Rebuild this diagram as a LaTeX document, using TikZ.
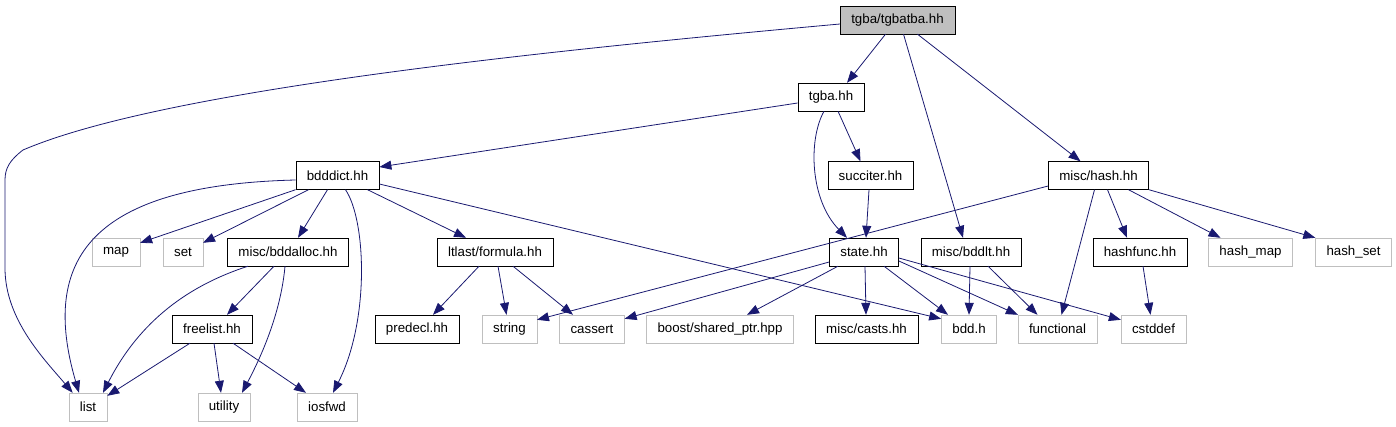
\documentclass[tikz,border=0pt]{standalone}
\usepackage{fontspec}
\setmainfont{Liberation Sans}
\usepackage{tikz}
\usetikzlibrary{arrows.meta}
\definecolor{doxyedge}{HTML}{191970}
\definecolor{doxygray}{HTML}{BFBFBF}
\begin{document}
\begin{tikzpicture}[x=1pt,y=-1pt,
	hdr/.style={draw=black,minimum height=28pt,inner xsep=11pt,inner ysep=0pt,font=\fontsize{13.3}{15}\selectfont},
	ext/.style={hdr,draw=doxygray},
	top/.style={hdr,fill=doxygray},
	incl/.style={doxyedge,line width=0.8pt,-{Triangle[length=12pt,width=9pt]}}]
				\useasboundingbox (0,0) rectangle (1396,427);
				\node[top] (tgbatba) at (897.5,20) {tgba/tgbatba.hh};
				\node[hdr] (tgba) at (831,97) {tgba.hh};
				\node[hdr] (bdddict) at (337.5,175.5) {bdddict.hh};
				\node[hdr] (succiter) at (870.5,175.5) {succiter.hh};
				\node[hdr] (hash) at (1098.5,175.5) {misc/hash.hh};
				\node[ext] (map) at (116,252) {map};
				\node[ext] (set) at (183,252) {set};
				\node[hdr] (bddalloc) at (288,252) {misc/bddalloc.hh};
				\node[hdr] (formula) at (495,252) {ltlast/formula.hh};
				\node[hdr] (state) at (864,252) {state.hh};
				\node[hdr] (bddlt) at (971,252) {misc/bddlt.hh};
				\node[hdr] (hashfunc) at (1140,252) {hashfunc.hh};
				\node[ext] (hashmap) at (1250.5,252) {hash\_map};
				\node[ext] (hashset) at (1353.5,252) {hash\_set};
				\node[hdr] (freelist) at (212,329) {freelist.hh};
				\node[hdr] (predecl) at (417,329) {predecl.hh};
				\node[ext] (string) at (509.5,329) {string};
				\node[ext] (cassert) at (592,329) {cassert};
				\node[ext] (boost) at (720,329) {boost/shared\_ptr.hpp};
				\node[hdr] (casts) at (866.5,329) {misc/casts.hh};
				\node[ext] (bddh) at (969,329) {bdd.h};
				\node[ext] (functional) at (1057.5,329) {functional};
				\node[ext] (cstddef) at (1153.5,329) {cstddef};
				\node[ext] (list) at (88,407) {list};
				\node[ext] (utility) at (224,407) {utility};
				\node[ext] (iosfwd) at (327,407) {iosfwd};
				\draw[incl] ([yshift=-4pt]tgbatba.west) .. controls (542,51) and (163,90) .. (23,150) .. controls (10,160) and (5,168) .. (5,180) -- (5,268) .. controls (5,320) and (45,360) .. ([xshift=4pt]list.north west);
				\draw[incl] ([xshift=-12pt]tgbatba.south) -- ([xshift=16pt]tgba.north);
				\draw[incl] ([xshift=6pt]tgbatba.south) -- ([xshift=-8pt]bddlt.north);
				\draw[incl] ([xshift=20pt]tgbatba.south) -- ([xshift=-18pt]hash.north);
				\draw[incl] ([yshift=-6pt]tgba.west) -- ([yshift=8.5pt]bdddict.east);
				\draw[incl] ([xshift=7pt]tgba.south) -- ([xshift=-10pt]succiter.north);
				\draw[incl] ([xshift=-7pt]tgba.south) .. controls (808,140) and (810,200) .. ([xshift=-17pt]state.north);
				\draw[incl] ([xshift=-1.5pt]succiter.south) -- ([xshift=2pt]state.north);
				\draw[incl] ([yshift=-4.5pt]bdddict.west) .. controls (90,185) and (40,260) .. ([xshift=-9pt]list.north);
				\draw[incl] (bdddict.south west) -- ([yshift=-5pt]map.north east);
				\draw[incl] ([xshift=-29pt]bdddict.south) -- ([yshift=-5pt]set.north east);
				\draw[incl] ([xshift=-10pt]bdddict.south) -- ([xshift=10pt]bddalloc.north);
				\draw[incl] ([xshift=8pt]bdddict.south) .. controls (366,220) and (370,320) .. ([xshift=6pt]iosfwd.north);
				\draw[incl] ([xshift=30pt]bdddict.south) -- ([xshift=-29pt]formula.north);
				\draw[incl] ([yshift=-8.5pt]bdddict.east) -- ([yshift=-4pt]bddh.north west);
				\draw[incl] ([xshift=-40pt]bddalloc.south) .. controls (190,285) and (140,320) .. ([xshift=15pt]list.north);
				\draw[incl] ([xshift=-14pt]bddalloc.south) -- ([xshift=15pt]freelist.north);
				\draw[incl] ([xshift=-3pt]bddalloc.south) .. controls (282,300) and (270,340) .. ([xshift=18pt]utility.north);
				\draw[incl] ([xshift=-22pt]freelist.south) -- ([yshift=-3pt]list.north east);
				\draw[incl] ([xshift=2pt]freelist.south) -- ([xshift=-3pt]utility.north);
				\draw[incl] ([xshift=21pt]freelist.south) -- ([xshift=-21pt]iosfwd.north);
				\draw[incl] ([xshift=-16pt]formula.south) -- ([xshift=16pt]predecl.north);
				\draw[incl] ([xshift=3pt]formula.south) -- ([xshift=-3pt]string.north);
				\draw[incl] ([xshift=18pt]formula.south) -- ([xshift=-19pt]cassert.north);
				\draw[incl] ([yshift=-10.5pt]hash.west) -- ([yshift=-5pt]string.north east);
				\draw[incl] ([yshift=-10pt]state.west) -- ([yshift=-4pt]cassert.north east);
				\draw[incl] ([xshift=-26pt]state.south) -- ([xshift=27pt]boost.north);
				\draw[incl] ([xshift=1pt]state.south) -- ([xshift=-0.5pt]casts.north);
				\draw[incl] ([xshift=20pt]state.south) -- ([xshift=-21pt]bddh.north);
				\draw[incl] ([yshift=-9pt]state.east) -- (functional.north west);
				\draw[incl] ([yshift=-6pt]state.east) -- ([yshift=-5pt]cstddef.north west);
				\draw[incl] ([xshift=-1pt]bddlt.south) -- (bddh.north);
				\draw[incl] ([xshift=17pt]bddlt.south) -- ([xshift=-20pt]functional.north);
				\draw[incl] ([xshift=-4pt]hash.south) -- ([xshift=4pt]functional.north);
				\draw[incl] ([xshift=9pt]hash.south) -- ([xshift=-13pt]hashfunc.north);
				\draw[incl] ([xshift=30pt]hash.south) -- ([xshift=-30pt]hashmap.north);
				\draw[incl] (hash.south east) -- (hashset.north west);
				\draw[incl] ([xshift=3pt]hashfunc.south) -- ([xshift=-3pt]cstddef.north);
			\end{tikzpicture}
\end{document}
